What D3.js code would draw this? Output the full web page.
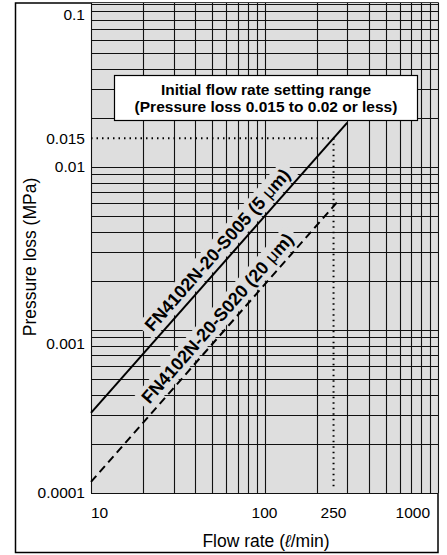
<!DOCTYPE html>
<html>
<head>
<meta charset="utf-8">
<script src="https://cdn.jsdelivr.net/npm/d3@7"></script>
<style>
  body { margin: 0; background: #fff; }
  text { font-family: "Liberation Sans", Arial, sans-serif; fill: #000; }
</style>
</head>
<body>
<script>
// axis ticks shown as labels
const flowTicks = [10, 100, 250, 1000]
const pressureTicks = [0.1, 0.015, 0.01, 0.001, 0.0001]

// two filter elements, straight lines on the log-log chart
const seriesNames = ['FN4102N-20-S005', 'FN4102N-20-S020']
const seriesMesh = ['5', '20']
const seriesFlow = [[10, 300], [10, 270]]
const seriesPressure = [[0.00031, 0.0187], [0.000117, 0.0063]]
const seriesDash = [null, '8,5']

// initial setting point
const settingFlow = 250
const settingPressure = 0.015

const W = 447, H = 555
const margin = {top: 3, right: 9, bottom: 62, left: 91}

const svg = d3.select('body').append('svg')
  .attr('width', W).attr('height', H)

// outer frame
svg.append('rect')
  .attr('x', 15.5).attr('y', margin.top)
  .attr('width', W - margin.right - 15.5).attr('height', H - 2.5 - margin.top)
  .attr('fill', 'none').attr('stroke', '#000').attr('stroke-width', 1.5)

const x = d3.scaleLog().domain([10, 1000]).range([margin.left, W - margin.right])
const y = d3.scaleLog().domain([0.0001, 0.1]).range([H - margin.bottom, margin.top + 1])

const g = svg.append('g')

g.append('rect')
  .attr('x', x(10)).attr('y', margin.top)
  .attr('width', x(1000) - x(10)).attr('height', y(0.0001) - margin.top)
  .attr('fill', '#dedede')

// grid
const snap = v => Math.round(v) + 0.5
g.append('g').selectAll('line').data(x.ticks())
  .join('line')
  .attr('x1', d => snap(x(d))).attr('x2', d => snap(x(d)))
  .attr('y1', margin.top).attr('y2', y(0.0001))
  .attr('stroke', '#111').attr('stroke-width', 1.1)
g.append('g').selectAll('line').data(y.ticks())
  .join('line')
  .attr('x1', x(10)).attr('x2', x(1000))
  .attr('y1', d => snap(y(d))).attr('y2', d => snap(y(d)))
  .attr('stroke', '#111').attr('stroke-width', 1.1)

// series geometry
const pts = seriesFlow.map((fl, i) => fl.map((f, j) => [x(f), y(seriesPressure[i][j])]))
const labelFlow = 61
function pointAt(i, f) {
  const [p0, p1] = pts[i]
  const t = (x(f) - p0[0]) / (p1[0] - p0[0])
  return [p0[0] + t * (p1[0] - p0[0]), p0[1] + t * (p1[1] - p0[1])]
}

const halos = g.append('g')
const linesG = g.append('g')
const labelsG = g.append('g')

const line = d3.line()
linesG.selectAll('path').data(pts)
  .join('path')
  .attr('d', d => line(d))
  .attr('fill', 'none').attr('stroke', '#000').attr('stroke-width', 2)
  .attr('stroke-dasharray', (d, i) => seriesDash[i])

// dotted guides for setting point
linesG.append('line')
  .attr('x1', x(10)).attr('x2', x(settingFlow))
  .attr('y1', y(settingPressure)).attr('y2', y(settingPressure))
  .attr('stroke', '#000').attr('stroke-width', 2).attr('stroke-dasharray', '1.5,4')
linesG.append('line')
  .attr('x1', x(settingFlow)).attr('x2', x(settingFlow))
  .attr('y1', y(settingPressure)).attr('y2', y(0.0001) - 4)
  .attr('stroke', '#000').attr('stroke-width', 2).attr('stroke-dasharray', '1.5,4')

seriesNames.forEach((name, i) => {
  const [p0, p1] = pts[i]
  const ang = Math.atan2(p1[1] - p0[1], p1[0] - p0[0]) * 180 / Math.PI
  const c = pointAt(i, labelFlow)
  const lg = labelsG.append('g').attr('transform', `translate(${c[0]},${c[1]}) rotate(${ang})`)
  const t = lg.append('text')
    .attr('text-anchor', 'middle').attr('y', -7)
    .style('font-size', '18px').style('font-weight', 'bold')
  t.append('tspan').text(name + ' (' + seriesMesh[i] + ' ')
  t.append('tspan').style('font-weight', 'normal').text('μ')
  t.append('tspan').text('m)')
  const b = t.node().getBBox()
  halos.append('rect')
    .attr('transform', `translate(${c[0]},${c[1]}) rotate(${ang})`)
    .attr('x', b.x - 5).attr('y', b.y - 1)
    .attr('width', b.width + 10).attr('height', b.height + 2)
    .attr('fill', '#dedede')
})

// annotation box
const box = svg.append('g')
box.append('rect')
  .attr('x', 114.5).attr('y', 75.5).attr('width', 303).attr('height', 45)
  .attr('fill', '#fff').attr('stroke', '#000').attr('stroke-width', 1.2)
box.append('text').attr('x', 266).attr('y', 95).attr('text-anchor', 'middle')
  .style('font-size', '15.5px').style('font-weight', 'bold')
  .text('Initial flow rate setting range')
box.append('text').attr('x', 266).attr('y', 112).attr('text-anchor', 'middle')
  .style('font-size', '15.5px').style('font-weight', 'bold')
  .text('(Pressure loss 0.015 to 0.02 or less)')

// tick labels
const yLabelShift = {0.1: 11, 0.001: 14}
svg.append('g').selectAll('text').data(pressureTicks)
  .join('text')
  .attr('x', x(10) - 6)
  .attr('y', d => y(d) + (yLabelShift[d] || 0))
  .attr('dy', '0.35em')
  .attr('text-anchor', 'end')
  .style('font-size', '15.5px')
  .text(d => d)

const xAnchor = {10: 'start', 1000: 'end'}
const xShift = {10: 0, 1000: -8}
svg.append('g').selectAll('text').data(flowTicks)
  .join('text')
  .attr('x', d => x(d) + (xShift[d] || 0))
  .attr('y', y(0.0001) + 25)
  .attr('text-anchor', d => xAnchor[d] || 'middle')
  .style('font-size', '15.5px')
  .text(d => d)

// axis titles
const xt = svg.append('text')
  .attr('x', 266).attr('y', 547)
  .attr('text-anchor', 'middle')
  .style('font-size', '17.5px')
xt.append('tspan').text('Flow rate (')
xt.append('tspan').style('font-style', 'italic').text('ℓ')
xt.append('tspan').text('/min)')

svg.append('text')
  .attr('transform', `translate(36,257) rotate(-90)`)
  .attr('text-anchor', 'middle')
  .style('font-size', '17.5px')
  .text('Pressure loss (MPa)')
</script>
</body>
</html>
